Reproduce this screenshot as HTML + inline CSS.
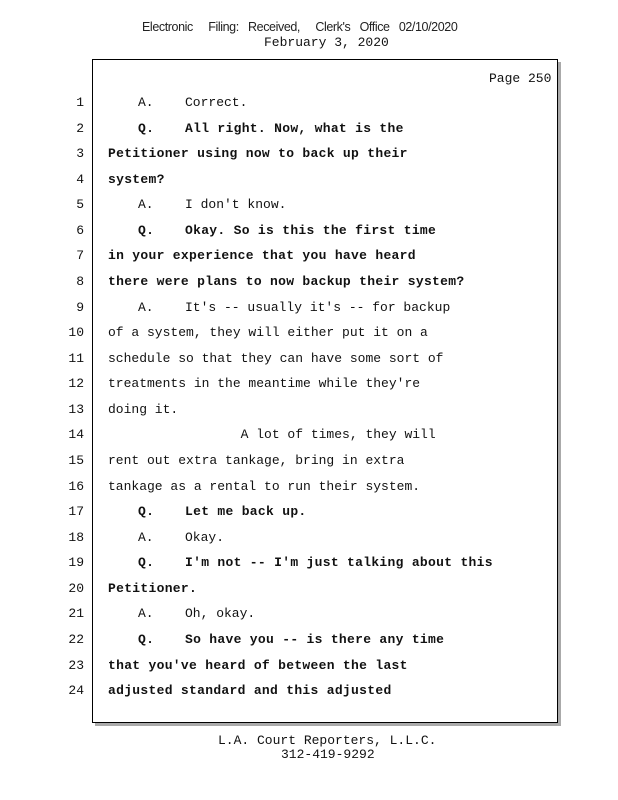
<!DOCTYPE html>
<html><head><meta charset="utf-8"><style>
body{margin:0;width:618px;height:800px;background:#fff;position:relative;font-family:"Liberation Mono",monospace;color:#111;overflow:hidden}
.box{position:absolute;left:92px;top:59px;width:464px;height:662px;border:1.5px solid #000;box-shadow:3px 3px 0 #aaa;background:#fff}
.l{position:absolute;font-size:13px;line-height:16px;white-space:pre}
.n{position:absolute;left:60px;width:24px;text-align:right;font-size:13px;line-height:16px}
b{font-weight:bold;letter-spacing:0.3px}
.h{position:absolute;font-family:"Liberation Sans",sans-serif;font-size:12.5px;letter-spacing:-0.4px;color:#222;white-space:pre}
</style></head><body>
<div class="h" style="left:142px;top:20px">Electronic     Filing:   Received,     Clerk's   Office   02/10/2020</div>
<div class="l" style="left:264px;top:35px">February 3, 2020</div>
<div class="box"></div>
<div class="l" style="left:489px;top:71px">Page 250</div>
<div id="c"></div>
<div class="l" style="left:218px;top:733px">L.A. Court Reporters, L.L.C.</div>
<div class="l" style="left:281px;top:747px">312-419-9292</div>
<script>
var L=[
["A.","Correct.",0],
["Q.","All right. Now, what is the",1],
["","Petitioner using now to back up their",1],
["","system?",1],
["A.","I don't know.",0],
["Q.","Okay. So is this the first time",1],
["","in your experience that you have heard",1],
["","there were plans to now backup their system?",1],
["A.","It's -- usually it's -- for backup",0],
["","of a system, they will either put it on a",0],
["","schedule so that they can have some sort of",0],
["","treatments in the meantime while they're",0],
["","doing it.",0],
["","                 A lot of times, they will",0],
["","rent out extra tankage, bring in extra",0],
["","tankage as a rental to run their system.",0],
["Q.","Let me back up.",1],
["A.","Okay.",0],
["Q.","I'm not -- I'm just talking about this",1],
["","Petitioner.",1],
["A.","Oh, okay.",0],
["Q.","So have you -- is there any time",1],
["","that you've heard of between the last",1],
["","adjusted standard and this adjusted",1]];
var h="";
for(var i=0;i<24;i++){var y=Math.round(103+i*25.57-8);var r=L[i];
h+='<div class="n" style="top:'+y+'px">'+(i+1)+'</div>';
var t=r[2]?'<b>':'<span>',e=r[2]?'</b>':'</span>';
if(r[0]){h+='<div class="l" style="left:138px;top:'+y+'px">'+t+r[0]+e+'</div><div class="l" style="left:185px;top:'+y+'px">'+t+r[1]+e+'</div>';}
else h+='<div class="l" style="left:108px;top:'+y+'px">'+t+r[1]+e+'</div>';}
document.getElementById('c').innerHTML=h;
</script>
</body></html>
